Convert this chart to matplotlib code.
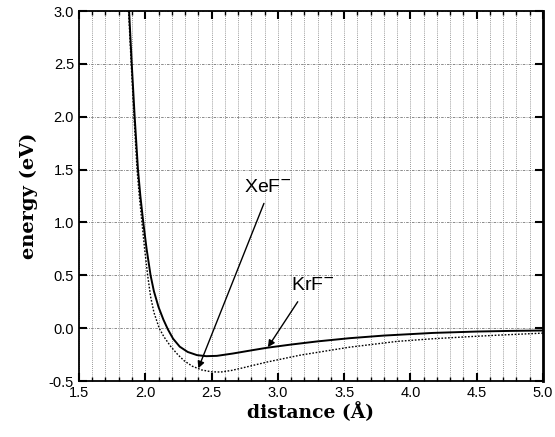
import numpy as np
import matplotlib.pyplot as plt
from matplotlib.ticker import MultipleLocator

plt.rcParams['font.family'] = 'Liberation Sans'

# KrF- potential curve (solid)
krf_r = [1.878, 1.898, 1.92, 1.945, 1.963, 1.985, 2.01, 2.04, 2.065, 2.10, 2.137,
         2.17, 2.21, 2.26, 2.32, 2.39, 2.46, 2.54, 2.66, 2.80, 2.92, 3.10, 3.30,
         3.54, 3.80, 4.17, 4.50, 4.75, 5.00]
krf_e = [3.0, 2.5, 2.0, 1.5, 1.25, 1.0, 0.75, 0.5, 0.35, 0.2, 0.08,
         -0.01, -0.10, -0.175, -0.225, -0.255, -0.265, -0.262, -0.24, -0.21, -0.185, -0.155, -0.125,
         -0.095, -0.07, -0.045, -0.032, -0.026, -0.022]

# XeF- potential curve (dotted)
xef_r = [1.874, 1.894, 1.915, 1.938, 1.955, 1.975, 1.995, 2.018, 2.04, 2.065, 2.105,
         2.14, 2.19, 2.245, 2.295, 2.355, 2.425, 2.50, 2.57, 2.65, 2.72, 2.92, 3.17, 3.54,
         3.90, 4.17, 4.45, 4.68, 5.00]
xef_e = [3.0, 2.5, 2.0, 1.5, 1.25, 1.0, 0.75, 0.5, 0.3, 0.15, 0.0,
         -0.08, -0.17, -0.25, -0.31, -0.36, -0.395, -0.413, -0.415, -0.40, -0.38, -0.32, -0.255, -0.18,
         -0.125, -0.10, -0.08, -0.065, -0.047]

fig = plt.figure(figsize=(5.55, 4.37), dpi=100)
ax = fig.add_axes([0.1423, 0.1281, 0.8361, 0.8467])

ax.plot(krf_r, krf_e, color='black', linewidth=1.4, zorder=3)
ax.plot(xef_r, xef_e, color='black', linewidth=1.0, linestyle=(0, (1.2, 1.2)), zorder=3)

ax.set_xlim(1.5, 5.0)
ax.set_ylim(-0.5, 3.0)
ax.xaxis.set_major_locator(MultipleLocator(0.5))
ax.xaxis.set_minor_locator(MultipleLocator(0.1))
ax.yaxis.set_major_locator(MultipleLocator(0.5))

# grid: fine vertical lines every 0.1, horizontal every 0.5
ax.grid(which='minor', axis='x', color='#777777', linestyle=(0, (1, 1.5)), linewidth=0.6)
ax.grid(which='major', axis='x', color='#777777', linestyle=(0, (1, 1.5)), linewidth=0.6)
ax.grid(which='major', axis='y', color='#777777', linestyle=(0, (3, 1.5, 1, 1.5)), linewidth=0.6)

ax.tick_params(which='both', direction='in', top=True, right=True, labelsize=10.5)
ax.tick_params(which='major', length=6, width=1.5)
ax.tick_params(which='minor', length=3, width=1.0)
ax.set_xticklabels([f'{v:.1f}' for v in ax.get_xticks()])
ax.set_yticklabels([f'{v:.1f}' for v in ax.get_yticks()])
for s in ax.spines.values():
    s.set_linewidth(1.3)
ax.spines['right'].set_linewidth(2.0)

ax.set_xlabel('distance (Å)', fontsize=13.5, fontweight='bold', family='DejaVu Serif', labelpad=2)
ax.set_ylabel('energy (eV)', fontsize=14, fontweight='bold', family='DejaVu Serif', labelpad=8)

arrow = dict(arrowstyle='-|>', color='black', linewidth=1.0, mutation_scale=10, shrinkA=0, shrinkB=0)
ax.annotate('', xy=(2.40, -0.38), xytext=(2.895, 1.18), arrowprops=arrow)
ax.annotate('', xy=(2.925, -0.18), xytext=(3.15, 0.25), arrowprops=arrow)
ax.text(2.925, 1.33, 'XeF$^{-}$', fontsize=14, ha='center', va='center')
ax.text(3.26, 0.40, 'KrF$^{-}$', fontsize=14, ha='center', va='center')

fig.savefig('out.png', dpi=100)
